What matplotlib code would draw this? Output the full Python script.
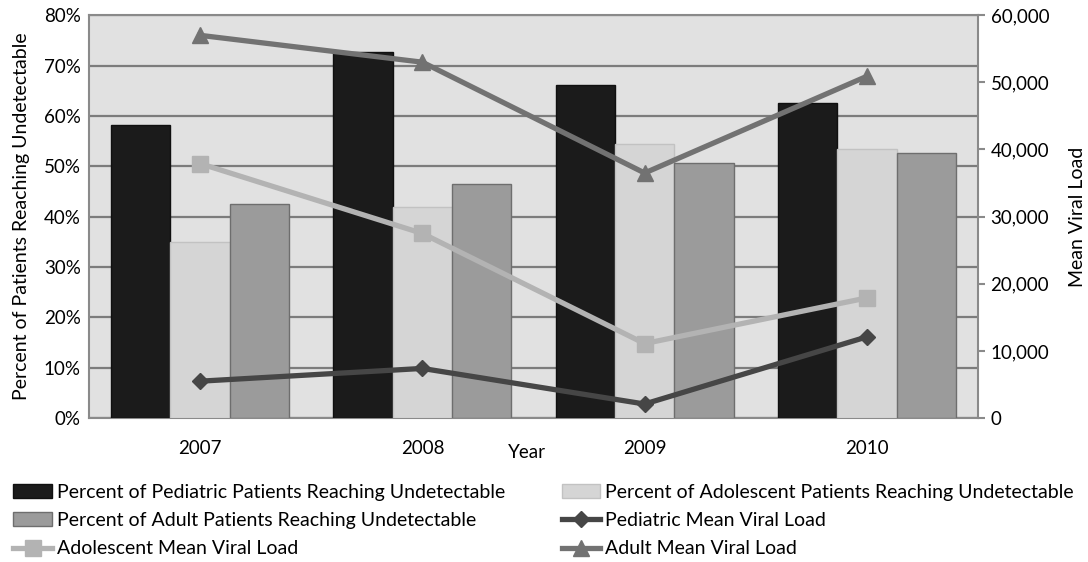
import matplotlib
matplotlib.use("Agg")
import matplotlib.pyplot as plt
import numpy as np
from matplotlib.ticker import FuncFormatter, MultipleLocator

plt.rcParams['font.family'] = ['Lato', 'DejaVu Sans']

years = ["2007", "2008", "2009", "2010"]

# Percent of patients reaching undetectable (left axis, %)
pct_pediatric = [58.1, 72.6, 66.1, 62.5]
pct_adolescent = [34.9, 41.9, 54.5, 53.4]
pct_adult = [42.5, 46.4, 50.6, 52.6]

# Mean viral load (right axis)
vl_pediatric = [5500, 7400, 2100, 12100]
vl_adolescent = [37900, 27500, 11100, 17900]
vl_adult = [57000, 53000, 36500, 50900]

fig = plt.figure(figsize=(10.88, 5.62), dpi=100)
ax = fig.add_axes([0.0818, 0.256, 0.8171, 0.717])
ax.set_facecolor('#e1e1e1')

x = np.arange(len(years))
w = 0.8 / 3

b1 = ax.bar(x - w, pct_pediatric, w, color='#1b1b1b', edgecolor='#101010', linewidth=1.0, zorder=3,
            label='Percent of Pediatric Patients Reaching Undetectable')
b2 = ax.bar(x, pct_adolescent, w, color='#d5d5d5', edgecolor='#c2c2c2', linewidth=1.0, zorder=3,
            label='Percent of Adolescent Patients Reaching Undetectable')
b3 = ax.bar(x + w, pct_adult, w, color='#9b9b9b', edgecolor='#6e6e6e', linewidth=1.0, zorder=3,
            label='Percent of Adult Patients Reaching Undetectable')

ax.set_xlim(-0.5, len(years) - 0.5)
ax.set_ylim(0, 80)
ax.yaxis.set_major_locator(MultipleLocator(10))
ax.yaxis.set_major_formatter(FuncFormatter(lambda v, p: f"{v:.0f}%"))
ax.set_xticks(x)
ax.set_xticklabels(years)
ax.tick_params(axis='x', length=0, pad=16, labelsize=13.5)
ax.tick_params(axis='y', length=0, pad=6, labelsize=13.5)
ax.grid(axis='y', color='#7c7c7c', linewidth=1.6, zorder=1)
ax.set_axisbelow(True)
for s in ax.spines.values():
    s.set_color('#8a8a8a')
    s.set_linewidth(1.5)
ax.set_ylabel('Percent of Patients Reaching Undetectable', fontsize=14, labelpad=10)

ax2 = ax.twinx()
l1, = ax2.plot(x, vl_pediatric, color='#464646', linewidth=3.8, marker='D', markersize=8,
               label='Pediatric Mean Viral Load', zorder=4)
l2, = ax2.plot(x, vl_adolescent, color='#b3b3b3', linewidth=3.8, marker='s', markersize=11,
               label='Adolescent Mean Viral Load', zorder=4)
l3, = ax2.plot(x, vl_adult, color='#727272', linewidth=3.8, marker='^', markersize=12,
               label='Adult Mean Viral Load', zorder=4)
ax2.set_ylim(0, 60000)
ax2.yaxis.set_major_locator(MultipleLocator(10000))
ax2.yaxis.set_major_formatter(FuncFormatter(lambda v, p: f"{v:,.0f}"))
ax2.tick_params(axis='y', direction='out', length=5, width=1.5, color='#8a8a8a', pad=4, labelsize=13.5)
for s in ax2.spines.values():
    s.set_visible(False)
ax2.set_ylabel('Mean Viral Load', fontsize=14, labelpad=14)

fig.text(527 / 1088, 1 - 453 / 562, 'Year', ha='center', va='center', fontsize=13.5)

handles = [b1, b3, l2, b2, l1, l3]
fig.legend(handles=handles, labels=[h.get_label() for h in handles], ncol=2,
           loc='upper left', bbox_to_anchor=(0.005, 0.153), frameon=False,
           fontsize=14, handlelength=2.0, handleheight=0.7, handletextpad=0.25,
           columnspacing=2.9, labelspacing=0.58, borderaxespad=0)

fig.savefig('out.png', dpi=100, facecolor='white')
